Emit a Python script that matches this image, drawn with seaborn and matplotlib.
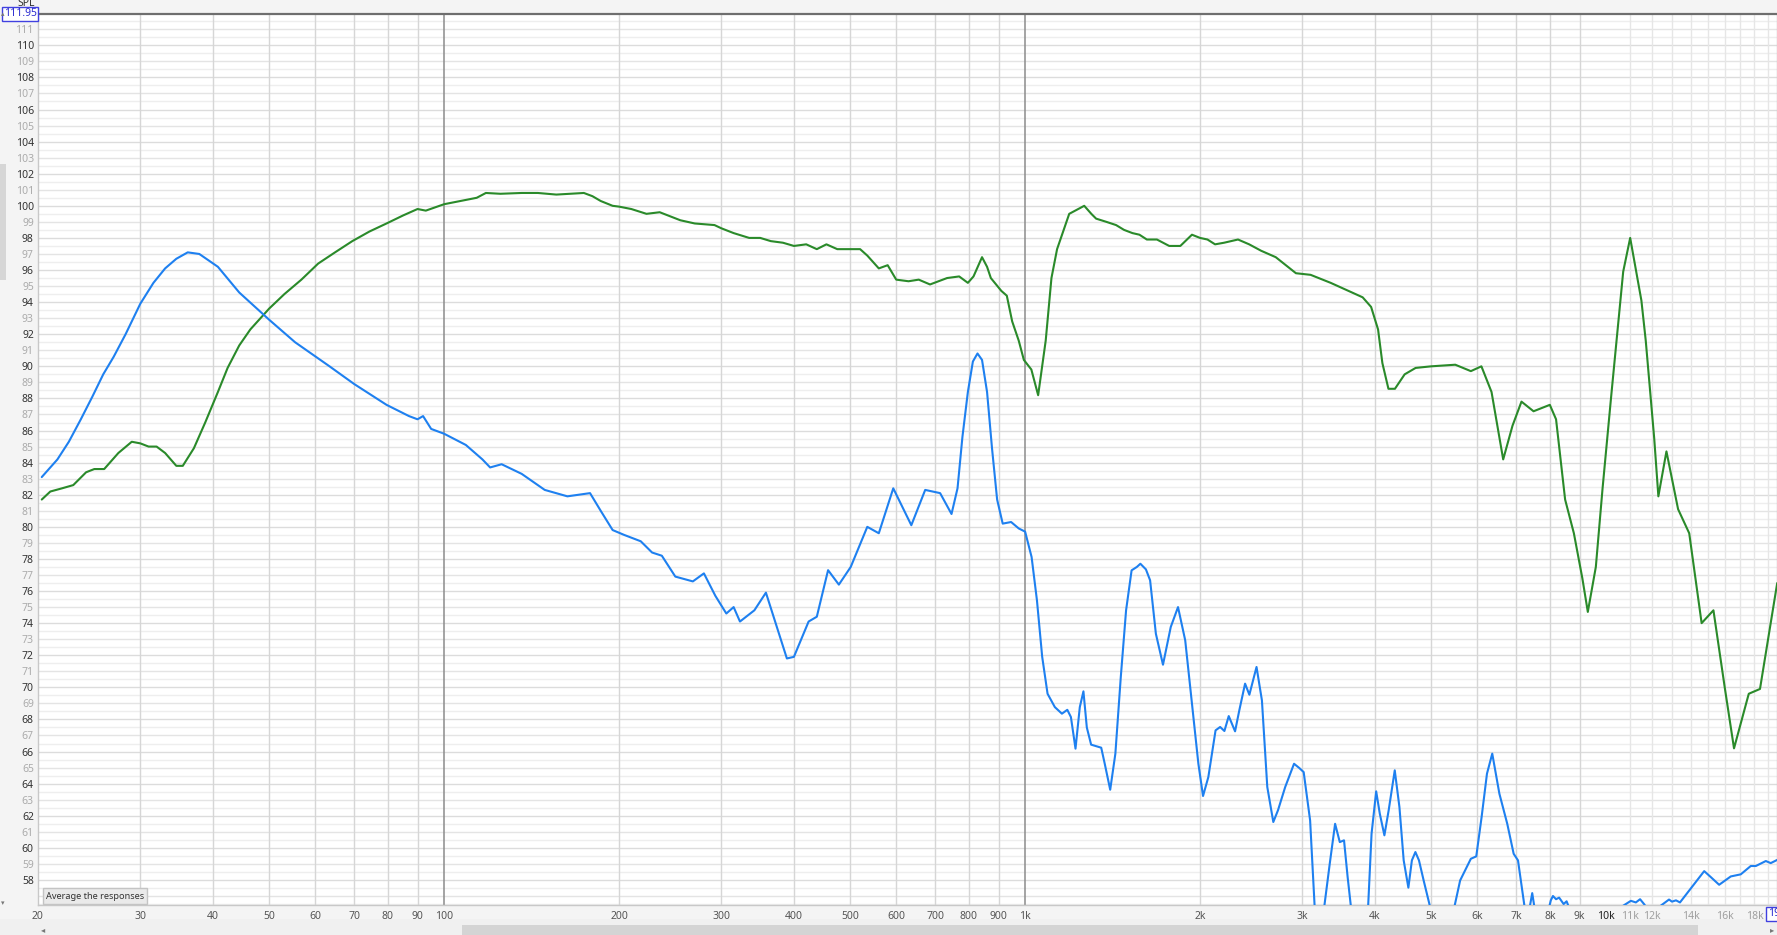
import numpy as np
import pandas as pd
import matplotlib
matplotlib.use("Agg")
import matplotlib.pyplot as plt
import seaborn as sns
from matplotlib.patches import Rectangle

# ---------------- data ----------------
blue_freq = [20.3, 21.6, 22.6, 23.7, 24.8, 25.9, 27.0, 28.3, 30.0, 31.6, 33.1, 34.6, 36.2, 37.9,
             40.8, 44.4, 50.0, 55.4, 63.5, 70.0,
             79.6, 87.0, 90.0, 92.0, 95.0, 100, 109, 116.4, 120, 125.6, 136, 149, 163, 170.6,
             178.3, 186, 195, 204, 218, 228, 237, 250, 268, 280, 293, 306, 315, 323, 342, 358,
             375, 389, 400, 424, 438, 458, 478, 501, 535, 560, 593, 637, 673, 714, 747, 765, 780,
             797, 813, 828, 843, 860, 877, 895, 915, 946, 975, 1000, 1026, 1048, 1070, 1093, 1125, 1157,
             1182, 1199, 1221, 1242, 1260, 1277, 1299, 1352, 1371, 1401, 1430, 1461, 1492, 1525,
             1557, 1579, 1614, 1641, 1679, 1727, 1781, 1833, 1886, 1940, 1987, 2024, 2067, 2127,
             2166, 2203, 2241, 2298, 2337, 2391, 2432, 2502, 2556, 2611, 2674, 2724, 2803, 2903,
             2965, 3016, 3094, 3180, 3274, 3344, 3416, 3480, 3539, 3590, 3750, 3892, 3947, 4020,
             4078, 4153, 4224, 4327, 4408, 4483, 4567, 4631, 4696, 4763, 4852, 4970, 5200, 5488,
             5607, 5727, 5850, 5977, 6105, 6236, 6368, 6551, 6758, 6932, 7052, 7233, 7320, 7461,
             7700, 8031, 8100, 8200, 8300, 8450, 8550, 8650, 9500, 10600, 11030, 11250, 11440,
             11650, 11900, 12420, 12830, 12980, 13190, 13400, 14080, 14750, 15140, 15650, 16390,
             17050, 17740, 18100, 18830, 19200, 19700]
blue_db = [83.1, 84.2, 85.3, 86.7, 88.1, 89.5, 90.6, 92.0, 93.9, 95.2, 96.1, 96.7, 97.1, 97.0,
           96.2, 94.6, 92.9, 91.5, 90.0, 88.9,
           87.6, 86.9, 86.7, 86.9, 86.1, 85.8, 85.1, 84.2, 83.7, 83.9, 83.3, 82.3, 81.9, 82.0,
           82.1, 81.0, 79.8, 79.5, 79.1, 78.4, 78.2, 76.9, 76.6, 77.1, 75.7, 74.6, 75.0, 74.1, 74.8, 75.9,
           73.6, 71.8, 71.9, 74.1, 74.4, 77.3, 76.4, 77.5, 80.0, 79.6, 82.4, 80.1, 82.3, 82.1, 80.8, 82.4, 85.6,
           88.4, 90.3, 90.8, 90.4, 88.4, 84.9, 81.7, 80.2, 80.3, 79.9, 79.7, 78.12, 75.42, 71.9, 69.6, 68.77, 68.36,
           68.6, 68.15, 66.18, 68.77, 69.75, 67.5, 66.43, 66.24, 65.24, 63.62, 65.87, 70.64, 74.8, 77.29,
           77.5, 77.7, 77.35, 76.67, 73.34, 71.41, 73.76, 75.0, 72.93, 68.77, 65.24, 63.23, 64.41, 67.32,
           67.53, 67.28, 68.21, 67.26, 68.57, 70.23, 69.54, 71.27, 69.19, 63.79, 61.61, 62.34, 63.79, 65.24,
           64.97, 64.72, 61.71, 53.5, 56.4, 59.0, 61.5, 60.36, 60.47, 58.18, 52.0, 56.2, 60.88, 63.52,
           62.13, 60.78, 62.34, 64.83, 62.54, 59.22, 57.52, 59.22, 59.74, 59.22, 57.97, 56.42, 53.5, 56.42,
           57.97, 58.64, 59.32, 59.47, 61.92, 64.62, 65.87, 63.37, 61.5, 59.63, 59.22, 56.4, 55.5, 57.18,
           54.0, 56.73, 57.0, 56.8, 56.9, 56.5, 56.67, 56.2, 53.0, 56.3, 56.7, 56.6, 56.8,
           56.45, 55.5, 56.4, 56.78, 56.65, 56.73, 56.6, 57.6, 58.55, 58.18, 57.7, 58.22,
           58.35, 58.87, 58.87, 59.18, 59.05, 59.25]

green_freq = [20.3, 21.0, 22.0, 23.0, 24.2, 25.0, 26.0, 27.5, 29.0, 30.0, 31.0, 32.0, 33.1, 34.6,
              35.5, 37.1, 38.8, 40.8, 42.4, 44.4, 46.4, 50.0, 53.1, 56.8, 60.7, 64.9, 69.5, 74.4,
              79.6, 85, 90, 93, 100, 113.8,
              118, 125, 136, 145, 156, 165, 174, 180, 186, 195, 200, 210, 223, 235, 255, 270, 292,
              300, 315, 335, 350, 365, 383, 400, 420, 438, 455, 475, 501, 520, 535, 560, 580, 600,
              630, 656, 686, 734, 770, 797, 815, 843, 860, 873, 910, 930, 950, 975, 995, 1025, 1053,
              1085, 1110, 1135, 1191, 1264, 1300, 1325, 1380, 1434, 1480, 1530, 1573, 1620, 1686,
              1770, 1850, 1937, 2000, 2060, 2123, 2200, 2325, 2430, 2548, 2700, 2925, 3100, 3357,
              3600, 3810, 3940, 4050, 4120, 4220, 4330, 4500, 4700, 5000, 5500, 5850, 6100, 6350,
              6650, 6900, 7150, 7500, 8000, 8200, 8500, 8800, 9100, 9300, 9600, 9860, 10200, 10700,
              11000, 11500, 11700, 12100, 12300, 12700, 13300, 13900, 14600, 15300, 16000, 16600,
              17600, 18400, 19700]
green_db = [81.7, 82.2, 82.4, 82.6, 83.4, 83.6, 83.6, 84.6, 85.3, 85.2, 85.0, 85.0, 84.6, 83.8,
            83.8, 84.9, 86.5, 88.4, 89.9, 91.3, 92.3, 93.6, 94.5, 95.4, 96.4, 97.1, 97.8, 98.4,
            98.9, 99.4, 99.8, 99.7, 100.1, 100.5,
            100.8, 100.75, 100.8, 100.8, 100.7, 100.75, 100.8, 100.6, 100.3, 100.0, 99.95, 99.8, 99.5, 99.6, 99.1, 98.9, 98.8,
            98.6, 98.3, 98.0, 98.0, 97.8, 97.7, 97.5, 97.6, 97.3, 97.6, 97.3, 97.3, 97.3, 96.9, 96.1, 96.3, 95.4,
            95.3, 95.4, 95.1, 95.5, 95.6, 95.2, 95.6, 96.8, 96.2, 95.5, 94.7, 94.4, 92.8, 91.6, 90.4, 89.8, 88.2,
            91.6, 95.5, 97.3, 99.5, 100.0, 99.5, 99.2, 99.0, 98.8, 98.5, 98.3, 98.2, 97.9, 97.9,
            97.5, 97.5, 98.2, 98.0, 97.9, 97.6, 97.7, 97.9, 97.6, 97.2, 96.8, 95.8, 95.7, 95.2,
            94.7, 94.3, 93.7, 92.3, 90.2, 88.6, 88.6, 89.5, 89.9, 90.0, 90.1, 89.7, 90.0, 88.4,
            84.2, 86.3, 87.8, 87.2, 87.6, 86.7, 81.7, 79.6, 76.8, 74.7, 77.5, 82.4, 88.1, 95.9,
            98.0, 94.1, 91.6, 85.5, 81.9, 84.7, 81.1, 79.6, 74.0, 74.8, 70.0, 66.2,
            69.6, 69.9, 76.5]

x_tick_vals = [20, 30, 40, 50, 60, 70, 80, 90, 100, 200, 300, 400, 500, 600, 700, 800, 900,
               1000, 2000, 3000, 4000, 5000, 6000, 7000, 8000, 9000, 10000, 11000, 12000, 14000,
               16000, 18000]
x_tick_labels = ["20", "30", "40", "50", "60", "70", "80", "90", "100", "200", "300", "400", "500",
                 "600", "700", "800", "900", "1k", "2k", "3k", "4k", "5k", "6k", "7k", "8k", "9k",
                 "10k", "11k", "12k", "14k", "16k", "18k"]
y_tick_vals = list(range(58, 112))
y_tick_labels = [str(v) for v in y_tick_vals]

# ---------------- figure ----------------
sns.set_theme(style="white")
plt.rcParams['font.family'] = ['Noto Sans', 'DejaVu Sans']

W, H = 1777, 935
fig = plt.figure(figsize=(W / 100, H / 100), dpi=100)
fig.patch.set_facecolor('#f4f4f4')
L, R, T, B = 38, 1777, 14, 905
ax = fig.add_axes([L / W, 1 - B / H, (R - L) / W, (B - T) / H])
ax.set_facecolor('white')

ax.set_xscale('log')
ax.set_xlim(20, 19683)
ax.set_ylim(56.44, 111.95)

# grid: half-dB and dB lines
for v in np.arange(56.5, 112.0, 0.5):
    if abs(v - round(v)) < 1e-6:
        c = '#dcdcdc' if int(round(v)) % 2 == 0 else '#e4e4e4'
    else:
        c = '#eeeeee'
    ax.axhline(v, color=c, lw=1.0, zorder=0)

grid_freqs = []
for dec in [10, 100, 1000]:
    for m in range(1, 10):
        grid_freqs.append(m * dec)
grid_freqs += [10000 + 1000 * k for k in range(1, 10)]
for f in grid_freqs:
    if 20 < f < 19683:
        if f in (100, 1000, 10000):
            ax.axvline(f, color='#8c8c8c', lw=1.1, zorder=0.5)
        elif f > 10000:
            ax.axvline(f, color='#e6e6e6', lw=1.0, zorder=0.4)
        else:
            ax.axvline(f, color='#d6d6d6', lw=1.0, zorder=0.4)

df_g = pd.DataFrame({'freq': green_freq, 'spl': green_db})
df_b = pd.DataFrame({'freq': blue_freq, 'spl': blue_db})
sns.lineplot(data=df_g, x='freq', y='spl', ax=ax, color='#2a8a2a', lw=1.5, sort=False,
             estimator=None, zorder=3)
sns.lineplot(data=df_b, x='freq', y='spl', ax=ax, color='#1e80f0', lw=1.5, sort=False,
             estimator=None, zorder=4)
for ln in ax.lines[-2:]:
    ln.set_solid_joinstyle('round')

ax.set_xlabel('')
ax.set_ylabel('')

# ticks
ax.xaxis.set_minor_locator(matplotlib.ticker.NullLocator())
ax.set_xticks(x_tick_vals)
ax.set_xticklabels(x_tick_labels)
ax.set_yticks(y_tick_vals)
ax.set_yticklabels(y_tick_labels)
ax.tick_params(axis='both', length=0, labelsize=7.5)
ax.tick_params(axis='x', pad=4)
ax.tick_params(axis='y', pad=3)
for lab, v in zip(ax.get_xticklabels(), x_tick_vals):
    if v > 10000:
        lab.set_color('#a0a0a0')
    elif v == 10000:
        lab.set_color('#222222')
        lab.set_fontweight('bold')
    else:
        lab.set_color('#555555')
for lab, v in zip(ax.get_yticklabels(), y_tick_vals):
    if v % 2 == 0:
        lab.set_color('#333333')
    else:
        lab.set_color('#ababab')

for side in ['left', 'bottom', 'right']:
    ax.spines[side].set_color('#c8c8c8')
    ax.spines[side].set_linewidth(1.0)
ax.spines['top'].set_color('#6e6e6e')
ax.spines['top'].set_linewidth(1.6)

# header text
fig.text(26 / W, 1 - 4 / H, 'SPL', fontsize=7.5, color='#333333', ha='center', va='center')
fig.text(20 / W, 1 - 14 / H, '111.95', fontsize=7.5, color='#2b2bd0', ha='center', va='center',
         bbox=dict(boxstyle='square,pad=0.15', fc='white', ec='#4040e0', lw=1.0))

# left scrollbar
fig.patches.append(Rectangle((0, 1 - 280 / H), 6 / W, 116 / H, transform=fig.transFigure,
                             fc='#d6d6d6', ec='none'))
# bottom scrollbar
fig.patches.append(Rectangle((0, 0), 1, 16 / H, transform=fig.transFigure, fc='#f0f0f0', ec='none'))
fig.patches.append(Rectangle((462 / W, 0), (1698 - 462) / W, 10 / H, transform=fig.transFigure,
                             fc='#d4d4d4', ec='none'))
fig.text(43 / W, 5 / H, '◂', fontsize=6, color='#777777', ha='center', va='center',
         family=['DejaVu Sans'])
fig.text(1772 / W, 5 / H, '▸', fontsize=6, color='#777777', ha='center', va='center',
         family=['DejaVu Sans'])
fig.text(3 / W, 1 - 14 / H, '▴', fontsize=5, color='#777777', ha='center', va='center',
         family=['DejaVu Sans'])
fig.text(3 / W, 1 - 903 / H, '▾', fontsize=5, color='#777777', ha='center', va='center',
         family=['DejaVu Sans'])

# button
ax.text(0.0045, 0.005, 'Average the responses', transform=ax.transAxes, fontsize=6.6,
        color='#333333', ha='left', va='bottom', zorder=10,
        bbox=dict(boxstyle='square,pad=0.35', fc='#eaeaea', ec='#c4c4c4', lw=1.0))

# cursor frequency box at bottom right
fig.text(1768 / W, 1 - 914 / H, '19', fontsize=7.5, color='#2b2bd0', ha='left', va='center',
         bbox=dict(boxstyle='square,pad=0.15', fc='white', ec='#4040e0', lw=1.0))

fig.savefig('out.png', dpi=100, facecolor=fig.get_facecolor())
